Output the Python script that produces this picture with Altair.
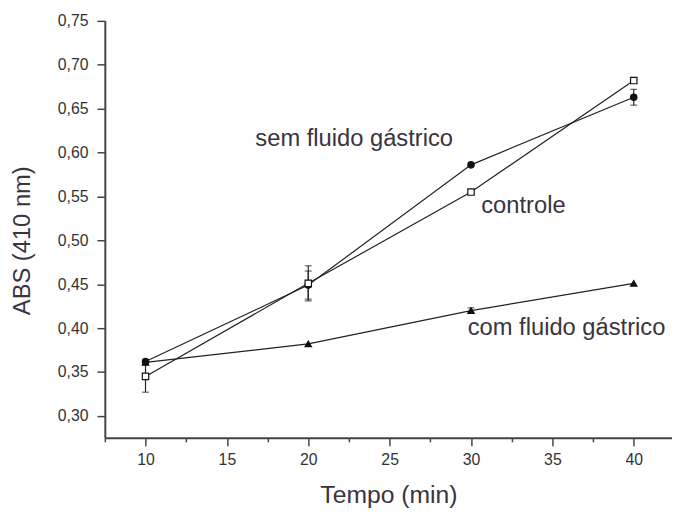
import altair as alt
import pandas as pd

tempo = [10, 20, 30, 40]
sem = [0.362, 0.449, 0.586, 0.663]
sem_err = [0.0, 0.016, 0.0, 0.009]
controle = [0.345, 0.451, 0.555, 0.682]
controle_err = [0.018, 0.020, 0.0, 0.0]
com = [0.361, 0.382, 0.420, 0.451]
com_err = [0.003, 0.0, 0.003, 0.0]

x_ticks = [7.5, 10, 12.5, 15, 17.5, 20, 22.5, 25, 27.5, 30, 32.5, 35, 37.5, 40, 42.5]
y_ticks = [0.30, 0.325, 0.35, 0.375, 0.40, 0.425, 0.45, 0.475, 0.50, 0.525, 0.55,
           0.575, 0.60, 0.625, 0.65, 0.675, 0.70, 0.725, 0.75]

label_text = ["sem fluido gástrico", "controle", "com fluido gástrico"]
label_x = [16.75, 30.63, 29.8]
label_y = [0.615, 0.539, 0.400]

rows = []
for name, vals, errs in [("sem", sem, sem_err), ("controle", controle, controle_err), ("com", com, com_err)]:
    for t, v, e in zip(tempo, vals, errs):
        rows.append({"serie": name, "tempo": t, "abs": v, "lo": v - e, "hi": v + e, "err": e})
df = pd.DataFrame(rows)
labels = pd.DataFrame({"text": label_text, "x": label_x, "y": label_y})

xs = alt.Scale(domain=[7.5, 42.35], nice=False, zero=False)
ys = alt.Scale(domain=[0.275, 0.75], nice=False, zero=False)

AX = "#444"
xaxis = alt.Axis(values=x_ticks, title="Tempo (min)", grid=False,
                 labelExpr="datum.value % 5 == 0 ? format(datum.value, 'd') : ''",
                 tickSize={"condition": {"test": "datum.value % 5 == 0", "value": 8}, "value": 4},
                 labelFontSize=16, titleFontSize=25, labelColor="#333", titleColor="#3a3340",
                 titleFontWeight="normal", domainColor=AX, tickColor=AX, domainWidth=2, tickWidth=1.5,
                 labelPadding=6, titlePadding=15, labelFont="Liberation Sans",
                 titleFont="Liberation Sans", labelFlush=False)
yaxis = alt.Axis(values=y_ticks,
                 labelExpr="round(datum.value * 1000) % 50 == 0 ? replace(format(datum.value, '.2f'), '.', ',') : ''",
                 tickSize={"condition": {"test": "round(datum.value * 1000) % 50 == 0", "value": 8}, "value": 4},
                 title="ABS (410 nm)", grid=False, labelFontSize=16, titleFontSize=24,
                 labelColor="#333", titleColor="#3a3340", titleFontWeight="normal",
                 domainColor=AX, tickColor=AX, domainWidth=2, tickWidth=1.5,
                 labelPadding=9, titleX=-83, titleY=222, titleAlign="center",
                 titleBaseline="middle", titleAngle=270, labelFont="Liberation Sans",
                 titleFont="Liberation Sans", labelFlush=False)

base = alt.Chart(df)

lines = base.mark_line(color="#222", strokeWidth=1.2).encode(
    x=alt.X("tempo:Q", scale=xs, axis=xaxis),
    y=alt.Y("abs:Q", scale=ys, axis=yaxis),
    detail="serie:N",
)

ebase = base.transform_filter("datum.err > 0")
err_rule = ebase.mark_rule(color="#222", strokeWidth=1.2).encode(
    x=alt.X("tempo:Q", scale=xs),
    y=alt.Y("lo:Q", scale=ys),
    y2="hi:Q",
)
cap_lo = ebase.mark_tick(color="#222", orient="horizontal", size=7, thickness=1.2).encode(
    x=alt.X("tempo:Q", scale=xs),
    y=alt.Y("lo:Q", scale=ys),
)
cap_hi = ebase.mark_tick(color="#222", orient="horizontal", size=7, thickness=1.2).encode(
    x=alt.X("tempo:Q", scale=xs),
    y=alt.Y("hi:Q", scale=ys),
)

pts = base.mark_point(size=42, strokeWidth=1.2, opacity=1).encode(
    x=alt.X("tempo:Q", scale=xs),
    y=alt.Y("abs:Q", scale=ys),
    shape=alt.Shape("serie:N", scale=alt.Scale(domain=["sem", "controle", "com"],
                                                 range=["circle", "square", "triangle-up"]), legend=None),
    fill=alt.Fill("serie:N", scale=alt.Scale(domain=["sem", "controle", "com"],
                                               range=["#111", "white", "#111"]), legend=None),
    color=alt.value("#111"),
)

txt = alt.Chart(labels).mark_text(align="left", baseline="middle", color="#3a3340",
                                   font="Liberation Sans", fontSize=24).encode(
    x=alt.X("x:Q", scale=xs),
    y=alt.Y("y:Q", scale=ys),
    text="text:N",
)

chart = alt.layer(lines, err_rule, cap_lo, cap_hi, pts, txt).properties(
    width=574, height=422,
    autosize=alt.AutoSizeParams(type="none"),
    padding={"left": 98, "top": 10, "right": 0, "bottom": 70},
).configure_view(stroke=None)

chart.save("out.html", embed_options={"renderer": "svg", "actions": False})
